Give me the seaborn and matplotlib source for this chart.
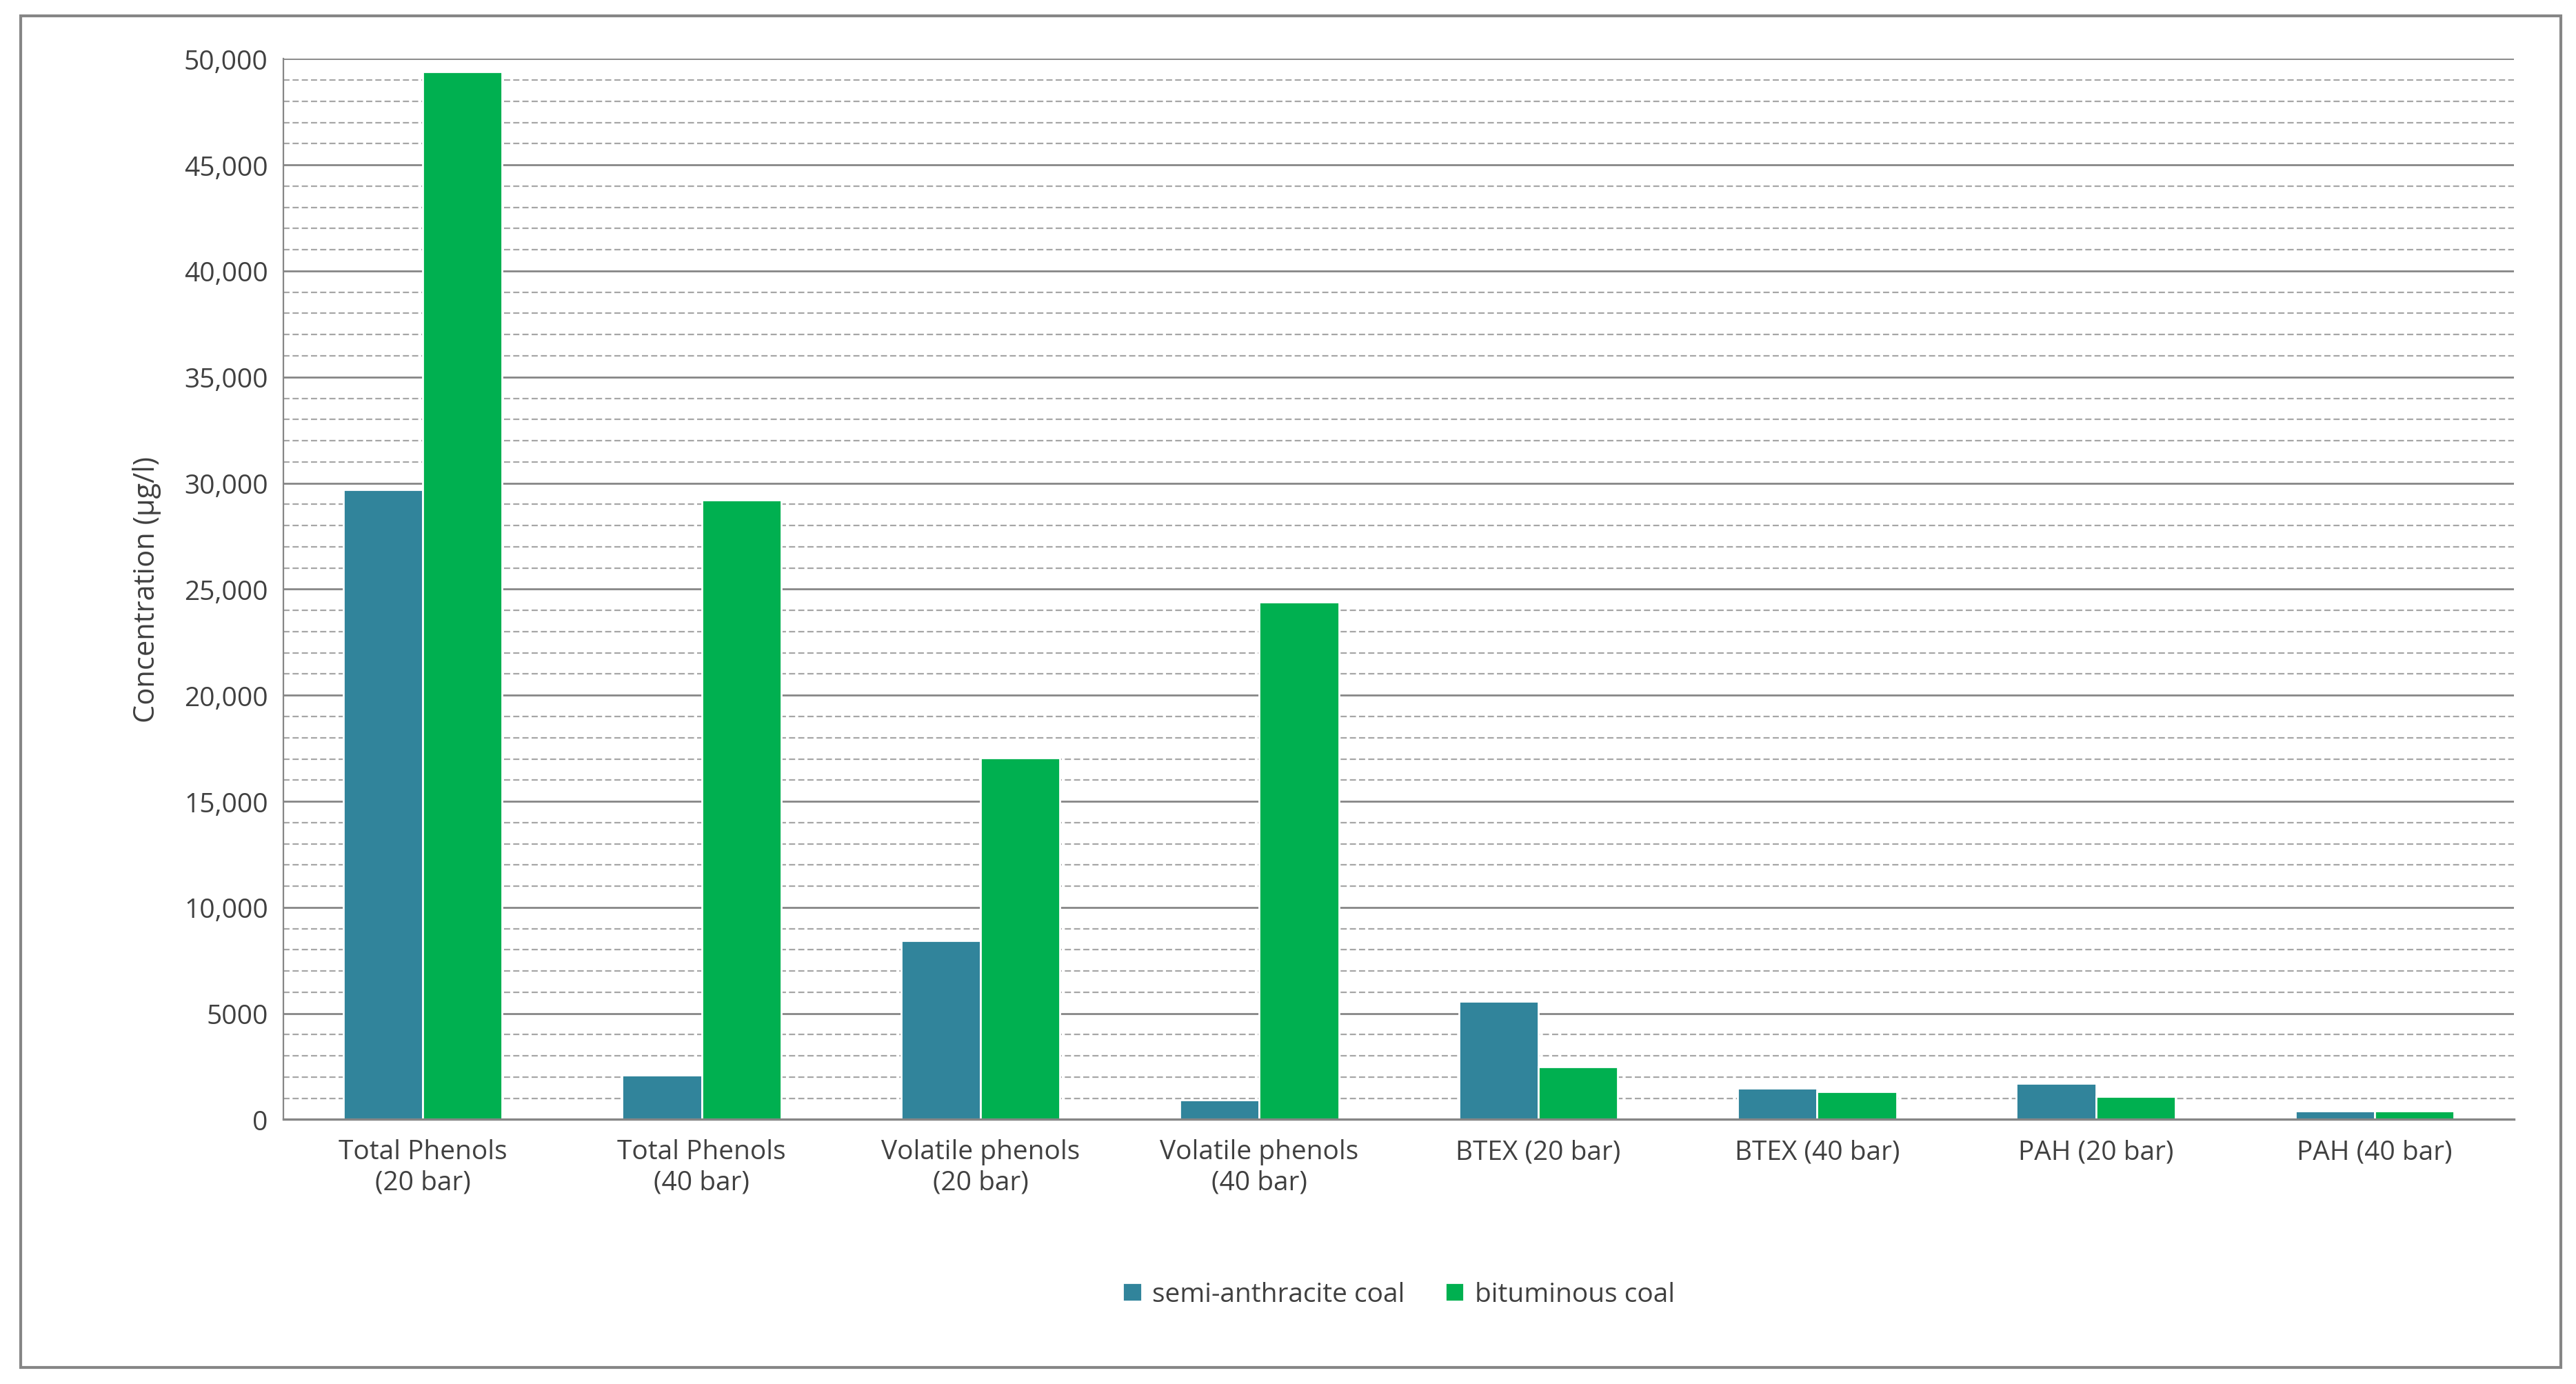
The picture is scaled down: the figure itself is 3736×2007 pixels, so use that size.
import numpy as np
import pandas as pd
import seaborn as sns
import matplotlib.pyplot as plt
import matplotlib.ticker as ticker

categories = ["Total Phenols\n(20 bar)", "Total Phenols\n(40 bar)", "Volatile phenols\n(20 bar)",
              "Volatile phenols\n(40 bar)", "BTEX (20 bar)", "BTEX (40 bar)", "PAH (20 bar)", "PAH (40 bar)"]
semi_anthracite = [29700, 2100, 8450, 930, 5580, 1470, 1700, 390]
bituminous = [49400, 29200, 17050, 24400, 2480, 1320, 1080, 390]
series = ["semi-anthracite coal", "bituminous coal"]
y_ticks = [0, 5000, 10000, 15000, 20000, 25000, 30000, 35000, 40000, 45000, 50000]
y_tick_labels = ["0", "5000", "10,000", "15,000", "20,000", "25,000", "30,000", "35,000", "40,000", "45,000", "50,000"]

df = pd.DataFrame({
    "category": categories * 2,
    "value": semi_anthracite + bituminous,
    "series": [series[0]] * len(categories) + [series[1]] * len(categories),
})

sns.set_style("white")
plt.rcParams['font.family'] = ['Open Sans', 'DejaVu Sans']
plt.rcParams['font.size'] = 14

fig = plt.figure(figsize=(18.68, 10.04), dpi=200)
ax = fig.add_axes([0.11, 0.191, 0.866, 0.766])

sns.barplot(data=df, x="category", y="value", hue="series", order=categories, hue_order=series,
            palette=["#31849B", "#00B050"], width=0.57, saturation=1, ax=ax, legend=True)

ax.set_ylim(0, 50000)
ax.set_xlim(-0.5, len(categories) - 0.5)
ax.set_yticks(y_ticks)
ax.set_yticklabels(y_tick_labels, color="#404040")
ax.yaxis.set_minor_locator(ticker.MultipleLocator(1000))
ax.set_axisbelow(True)
ax.grid(axis="y", which="major", color="#868686", lw=1.0)
ax.grid(axis="y", which="minor", color="#A6A6A6", lw=0.8, ls=(0, (4, 2)))

ax.set_xticks(range(len(categories)))
ax.set_xticklabels(categories, color="#404040")
ax.xaxis.set_minor_locator(ticker.FixedLocator(np.arange(-0.5, len(categories), 1)))
ax.tick_params(axis="x", which="major", length=0, pad=10)
ax.tick_params(axis="x", which="minor", length=8, color="#868686", width=1.2)
ax.tick_params(axis="y", which="both", length=0, pad=8)

ax.set_xlabel("")
ax.set_ylabel("Concentration (µg/l)", color="#404040", fontsize=15, labelpad=12)

for side in ["top", "right"]:
    ax.spines[side].set_visible(False)
ax.spines["left"].set_color("#868686")
ax.spines["bottom"].set_color("#868686")
ax.spines["bottom"].set_linewidth(1.2)

ax.legend(loc="center", bbox_to_anchor=(0.5, -0.165), ncol=2, frameon=False,
          handlelength=0.7, handleheight=0.7, columnspacing=1.5, handletextpad=0.4,
          labelcolor="#404040", fontsize=14)

fig.patches.append(plt.Rectangle((0.008, 0.012), 0.986, 0.976, transform=fig.transFigure,
                                 fill=False, edgecolor="#868686", lw=1.5))

fig.savefig("out.png", dpi=200)
